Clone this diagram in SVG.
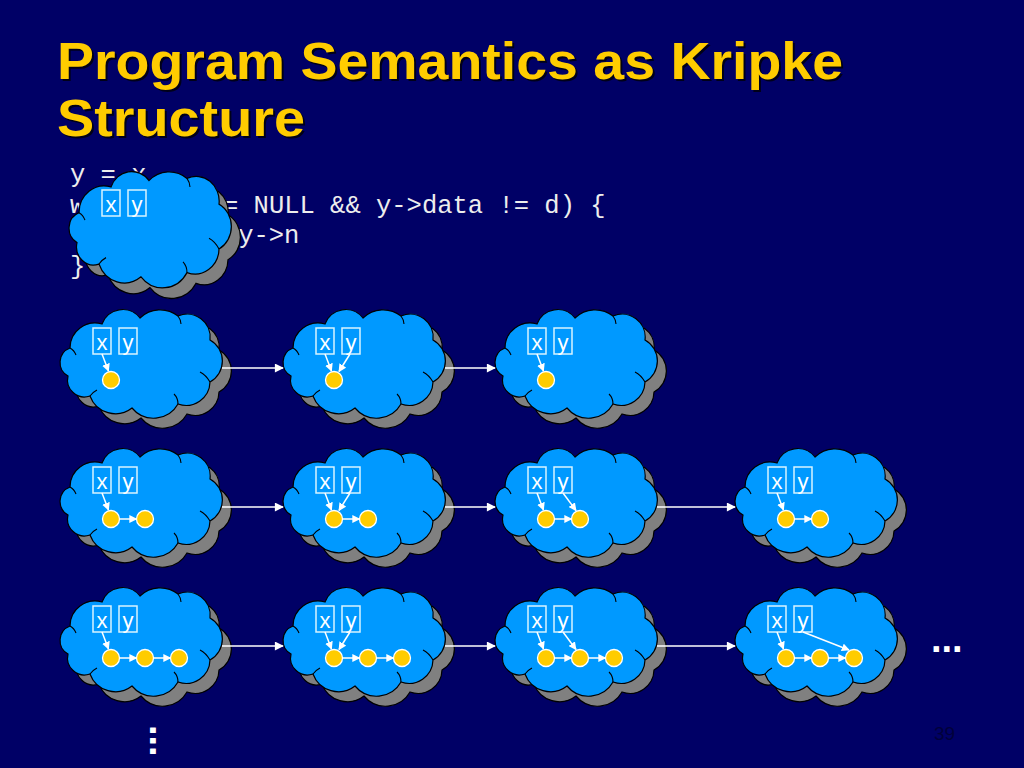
<svg xmlns="http://www.w3.org/2000/svg" xmlns:xlink="http://www.w3.org/1999/xlink" width="1024" height="768" viewBox="0 0 1024 768">
<style>
.title{font-family:"Liberation Sans",Arial,sans-serif;font-weight:bold;font-size:52px;fill:#FFCC00}
.tshadow{font-family:"Liberation Sans",Arial,sans-serif;font-weight:bold;font-size:52px;fill:#000000;opacity:0.75}
.code{font-family:"Liberation Mono","Courier New",monospace;font-size:25.5px;fill:#EDEDED}
.box{fill:none;stroke:#D8F4FF;stroke-width:1.5}
.lbl{font-family:"Liberation Sans",Arial,sans-serif;font-size:22px;fill:#FFFFFF;text-anchor:middle}
.node{fill:#FFCC00;stroke:#FFFFFF;stroke-width:1.3}
.inner{fill:none;stroke:#FFFFFF;stroke-width:1.5;marker-end:url(#ahs)}
.edge{fill:none;stroke:#FFFFFF;stroke-width:1.6;marker-end:url(#ahb)}
.dots{font-family:"Liberation Sans",Arial,sans-serif;font-weight:bold;font-size:38px;fill:#FFFFFF}
</style>
<defs>
<path id="cp" d="M10,38 A25,25 0 0 1 42,14 A22,22 0 0 1 80,8 A29,29 0 0 1 118,6 A23,23 0 0 1 150,30 A24,24 0 0 1 150,72 A24,24 0 0 1 118,94 A28,28 0 0 1 72,98 A27,27 0 0 1 30,86 A17,17 0 0 1 8,66 A15.5,15.5 0 0 1 10,38 Z"/>
<g id="cloud">
<use xlink:href="#cp" href="#cp" transform="translate(9,10)" fill="#808080" stroke="#000000" stroke-width="1.2"/>
<use xlink:href="#cp" href="#cp" fill="#0099FF" stroke="#000000" stroke-width="1.2"/>
<path d="M10,38 Q14,40 16,45 M150,72 Q146,65 140,62 M118,94 Q118,88 114,84 M118,6 Q121,10 121,14 M30,86 Q33,82 37,80" fill="none" stroke="#000000" stroke-width="1.1"/>
</g>
<marker id="ahs" viewBox="0 0 10 10" refX="9" refY="5" markerUnits="userSpaceOnUse" markerWidth="8" markerHeight="8" orient="auto"><path d="M0,0 L10,5 L0,10 z" fill="#FFFFFF"/></marker>
<marker id="ahb" viewBox="0 0 10 10" refX="9" refY="5" markerUnits="userSpaceOnUse" markerWidth="11" markerHeight="9" orient="auto"><path d="M0,0 L10,5 L0,10 z" fill="#FFFFFF"/></marker>
</defs>
<rect x="0" y="0" width="1024" height="768" fill="#000066"/>
<g id="title">
<text class="tshadow" x="59" y="81" textLength="786" lengthAdjust="spacingAndGlyphs">Program Semantics as Kripke</text>
<text class="tshadow" x="59" y="138" textLength="248" lengthAdjust="spacingAndGlyphs">Structure</text>
<text class="title" x="57" y="79" textLength="786" lengthAdjust="spacingAndGlyphs">Program Semantics as Kripke</text>
<text class="title" x="57" y="136" textLength="248" lengthAdjust="spacingAndGlyphs">Structure</text>
</g>
<g id="code">
<text class="code" x="70" y="182">y = x</text>
<text class="code" x="70" y="212.5">w</text>
<text class="code" x="207.7" y="212.5">!= NULL &amp;&amp; y-&gt;data != d) {</text>
<text class="code" x="177" y="243">y = y-&gt;n</text>
<text class="code" x="70" y="273.5">}</text>
</g>
<g id="s0" transform="translate(69,172)">
<use xlink:href="#cloud" href="#cloud" transform="scale(1,1.07)"/>
<rect class="box" x="33" y="18" width="18" height="26"/><rect class="box" x="59" y="18" width="18" height="26"/>
<text class="lbl" x="42" y="40">x</text><text class="lbl" x="68" y="40">y</text>
</g>
<g id="r1c1" transform="translate(60,310)">
<use xlink:href="#cloud" href="#cloud"/>
<rect class="box" x="33" y="18" width="18" height="26"/><rect class="box" x="59" y="18" width="18" height="26"/>
<text class="lbl" x="42" y="40">x</text><text class="lbl" x="68" y="40">y</text>
<circle class="node" cx="51" cy="70" r="8.5"/>
</g>
<g id="r1c2" transform="translate(283,310)">
<use xlink:href="#cloud" href="#cloud"/>
<rect class="box" x="33" y="18" width="18" height="26"/><rect class="box" x="59" y="18" width="18" height="26"/>
<text class="lbl" x="42" y="40">x</text><text class="lbl" x="68" y="40">y</text>
<circle class="node" cx="51" cy="70" r="8.5"/>
</g>
<g id="r1c3" transform="translate(495,310)">
<use xlink:href="#cloud" href="#cloud"/>
<rect class="box" x="33" y="18" width="18" height="26"/><rect class="box" x="59" y="18" width="18" height="26"/>
<text class="lbl" x="42" y="40">x</text><text class="lbl" x="68" y="40">y</text>
<circle class="node" cx="51" cy="70" r="8.5"/>
</g>
<g id="r2c1" transform="translate(60,449)">
<use xlink:href="#cloud" href="#cloud"/>
<rect class="box" x="33" y="18" width="18" height="26"/><rect class="box" x="59" y="18" width="18" height="26"/>
<text class="lbl" x="42" y="40">x</text><text class="lbl" x="68" y="40">y</text>
<circle class="node" cx="51" cy="70" r="8.5"/><circle class="node" cx="85" cy="70" r="8.5"/>
</g>
<g id="r2c2" transform="translate(283,449)">
<use xlink:href="#cloud" href="#cloud"/>
<rect class="box" x="33" y="18" width="18" height="26"/><rect class="box" x="59" y="18" width="18" height="26"/>
<text class="lbl" x="42" y="40">x</text><text class="lbl" x="68" y="40">y</text>
<circle class="node" cx="51" cy="70" r="8.5"/><circle class="node" cx="85" cy="70" r="8.5"/>
</g>
<g id="r2c3" transform="translate(495,449)">
<use xlink:href="#cloud" href="#cloud"/>
<rect class="box" x="33" y="18" width="18" height="26"/><rect class="box" x="59" y="18" width="18" height="26"/>
<text class="lbl" x="42" y="40">x</text><text class="lbl" x="68" y="40">y</text>
<circle class="node" cx="51" cy="70" r="8.5"/><circle class="node" cx="85" cy="70" r="8.5"/>
</g>
<g id="r2c4" transform="translate(735,449)">
<use xlink:href="#cloud" href="#cloud"/>
<rect class="box" x="33" y="18" width="18" height="26"/><rect class="box" x="59" y="18" width="18" height="26"/>
<text class="lbl" x="42" y="40">x</text><text class="lbl" x="68" y="40">y</text>
<circle class="node" cx="51" cy="70" r="8.5"/><circle class="node" cx="85" cy="70" r="8.5"/>
</g>
<g id="r3c1" transform="translate(60,588)">
<use xlink:href="#cloud" href="#cloud"/>
<rect class="box" x="33" y="18" width="18" height="26"/><rect class="box" x="59" y="18" width="18" height="26"/>
<text class="lbl" x="42" y="40">x</text><text class="lbl" x="68" y="40">y</text>
<circle class="node" cx="51" cy="70" r="8.5"/><circle class="node" cx="85" cy="70" r="8.5"/><circle class="node" cx="119" cy="70" r="8.5"/>
</g>
<g id="r3c2" transform="translate(283,588)">
<use xlink:href="#cloud" href="#cloud"/>
<rect class="box" x="33" y="18" width="18" height="26"/><rect class="box" x="59" y="18" width="18" height="26"/>
<text class="lbl" x="42" y="40">x</text><text class="lbl" x="68" y="40">y</text>
<circle class="node" cx="51" cy="70" r="8.5"/><circle class="node" cx="85" cy="70" r="8.5"/><circle class="node" cx="119" cy="70" r="8.5"/>
</g>
<g id="r3c3" transform="translate(495,588)">
<use xlink:href="#cloud" href="#cloud"/>
<rect class="box" x="33" y="18" width="18" height="26"/><rect class="box" x="59" y="18" width="18" height="26"/>
<text class="lbl" x="42" y="40">x</text><text class="lbl" x="68" y="40">y</text>
<circle class="node" cx="51" cy="70" r="8.5"/><circle class="node" cx="85" cy="70" r="8.5"/><circle class="node" cx="119" cy="70" r="8.5"/>
</g>
<g id="r3c4" transform="translate(735,588)">
<use xlink:href="#cloud" href="#cloud"/>
<rect class="box" x="33" y="18" width="18" height="26"/><rect class="box" x="59" y="18" width="18" height="26"/>
<text class="lbl" x="42" y="40">x</text><text class="lbl" x="68" y="40">y</text>
<circle class="node" cx="51" cy="70" r="8.5"/><circle class="node" cx="85" cy="70" r="8.5"/><circle class="node" cx="119" cy="70" r="8.5"/>
</g>
<g id="connectors">
<path class="edge" d="M222,368 L283,368"/>
<path class="edge" d="M445,368 L495,368"/>
<path class="edge" d="M222,507 L283,507"/>
<path class="edge" d="M445,507 L495,507"/>
<path class="edge" d="M657,507 L735,507"/>
<path class="edge" d="M222,646 L283,646"/>
<path class="edge" d="M445,646 L495,646"/>
<path class="edge" d="M657,646 L735,646"/>
<g transform="translate(60,310)"><path class="inner" d="M42,44 L48.5,61"/></g>
<g transform="translate(283,310)"><path class="inner" d="M42,44 L48.5,61"/><path class="inner" d="M67,44 L56,61.5"/></g>
<g transform="translate(495,310)"><path class="inner" d="M42,44 L48.5,61"/></g>
<g transform="translate(60,449)"><path class="inner" d="M42,44 L48.5,61"/><path class="inner" d="M59.5,70 L76.5,70"/></g>
<g transform="translate(283,449)"><path class="inner" d="M42,44 L48.5,61"/><path class="inner" d="M67,44 L56,61.5"/><path class="inner" d="M59.5,70 L76.5,70"/></g>
<g transform="translate(495,449)"><path class="inner" d="M42,44 L48.5,61"/><path class="inner" d="M68,44 L81,61.5"/><path class="inner" d="M59.5,70 L76.5,70"/></g>
<g transform="translate(735,449)"><path class="inner" d="M42,44 L48.5,61"/><path class="inner" d="M59.5,70 L76.5,70"/></g>
<g transform="translate(60,588)"><path class="inner" d="M42,44 L48.5,61"/><path class="inner" d="M59.5,70 L76.5,70"/><path class="inner" d="M93.5,70 L110.5,70"/></g>
<g transform="translate(283,588)"><path class="inner" d="M42,44 L48.5,61"/><path class="inner" d="M67,44 L56,61.5"/><path class="inner" d="M59.5,70 L76.5,70"/><path class="inner" d="M93.5,70 L110.5,70"/></g>
<g transform="translate(495,588)"><path class="inner" d="M42,44 L48.5,61"/><path class="inner" d="M68,44 L81,61.5"/><path class="inner" d="M59.5,70 L76.5,70"/><path class="inner" d="M93.5,70 L110.5,70"/></g>
<g transform="translate(735,588)"><path class="inner" d="M42,44 L48.5,61"/><path class="inner" d="M68,44 L114,62"/><path class="inner" d="M59.5,70 L76.5,70"/><path class="inner" d="M93.5,70 L110.5,70"/></g>
</g>
<text class="dots" x="931" y="652">...</text>
<text class="dots" x="0" y="0" transform="translate(150,725) rotate(90)">...</text>
<text x="934" y="740" font-family="Liberation Sans, Arial, sans-serif" font-size="19" fill="#00003A">39</text>
</svg>
